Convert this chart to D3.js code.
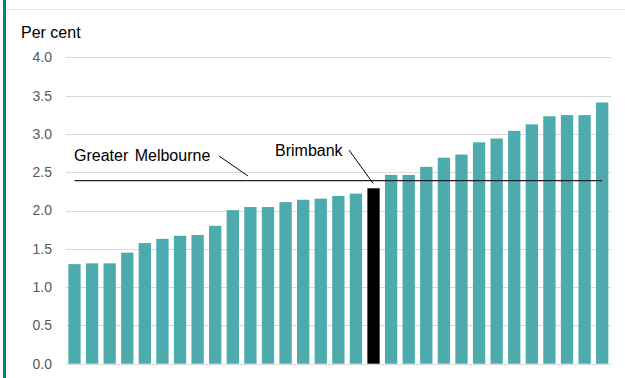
<!DOCTYPE html>
<html>
<head>
<meta charset="utf-8">
<script src="https://cdn.jsdelivr.net/npm/d3@7"></script>
<style>
  html, body { margin: 0; padding: 0; background: #fff; }
  svg { display: block; font-family: "Liberation Sans", Arial, sans-serif; }
</style>
</head>
<body>
<svg id="chart" width="625" height="378"></svg>
<script>
// ---- data ----
const categories = d3.range(1, 32).map(i => "LGA " + i);
const highlightIndex = 17; // Brimbank
const values = [1.30, 1.31, 1.31, 1.45, 1.575, 1.63, 1.67, 1.68, 1.80, 2.005, 2.045, 2.045, 2.11, 2.14, 2.155,
                2.19, 2.22, 2.29, 2.465, 2.465, 2.57, 2.69, 2.73, 2.89, 2.94, 3.04, 3.125, 3.23, 3.245, 3.245, 3.41];
const referenceValue = 2.39;
const referenceLabel = "Greater Melbourne";
const highlightLabel = "Brimbank";
const yTicks = [0, 0.5, 1.0, 1.5, 2.0, 2.5, 3.0, 3.5, 4.0];
const yTitle = "Per cent";

// ---- layout ----
const svg = d3.select("#chart");
const x = d3.scaleBand().domain(categories).range([65.7, 611]).paddingInner(0.3).paddingOuter(0.15);
const y = d3.scaleLinear().domain([0, 4]).range([363.7, 57.3]);

// frame
svg.append("line").attr("x1", 4.5).attr("x2", 4.5).attr("y1", 0).attr("y2", 378)
  .attr("stroke", "#00847f").attr("stroke-width", 3);
svg.append("line").attr("x1", 6).attr("x2", 625).attr("y1", 9.5).attr("y2", 9.5)
  .attr("stroke", "#e6e6e6").attr("stroke-width", 1);

// gridlines
svg.append("g").selectAll("line").data(yTicks).join("line")
  .attr("x1", 65.7).attr("x2", 611)
  .attr("y1", d => Math.round(y(d)) + 0.5).attr("y2", d => Math.round(y(d)) + 0.5)
  .attr("stroke", "#d9d9d9").attr("stroke-width", 1);

// y axis labels
const yAxis = d3.axisLeft(y).tickValues(yTicks).tickFormat(d3.format(".1f")).tickSize(0).tickPadding(0);
const gy = svg.append("g").attr("transform", "translate(52,0)").call(yAxis);
gy.select(".domain").remove();
gy.selectAll("text").attr("fill", "#595959").style("font-size", "14px")
  .style("font-family", "'Liberation Sans', Arial, sans-serif");

// title
svg.append("text").attr("x", 21).attr("y", 38).text(yTitle)
  .attr("fill", "#000").style("font-size", "16px");

// bars
svg.append("g").selectAll("rect").data(values).join("rect")
  .attr("x", (d, i) => x(categories[i]))
  .attr("width", x.bandwidth())
  .attr("y", d => y(d))
  .attr("height", d => y(0) - y(d))
  .attr("fill", (d, i) => i === highlightIndex ? "#000" : "#4dabad");

// reference line
const firstC = x(categories[0]) + x.bandwidth() / 2;
const lastC = x(categories[categories.length - 1]) + x.bandwidth() / 2;
svg.append("line").attr("x1", firstC).attr("x2", lastC)
  .attr("y1", y(referenceValue)).attr("y2", y(referenceValue))
  .attr("stroke", "#222").attr("stroke-width", 1.2);

// annotations
svg.append("text").attr("x", 74).attr("y", 161).text(referenceLabel)
  .attr("fill", "#000").style("font-size", "16px").style("word-spacing", "2px");
svg.append("line").attr("x1", 219).attr("y1", 156).attr("x2", 248).attr("y2", 176)
  .attr("stroke", "#000").attr("stroke-width", 1);

const hx = x(categories[highlightIndex]) + x.bandwidth() / 2;
svg.append("text").attr("x", 275).attr("y", 156).text(highlightLabel)
  .attr("fill", "#000").style("font-size", "16px");
svg.append("line").attr("x1", 349).attr("y1", 150).attr("x2", hx - 0.5).attr("y2", y(values[highlightIndex]) - 5)
  .attr("stroke", "#000").attr("stroke-width", 1);
</script>
</body>
</html>
